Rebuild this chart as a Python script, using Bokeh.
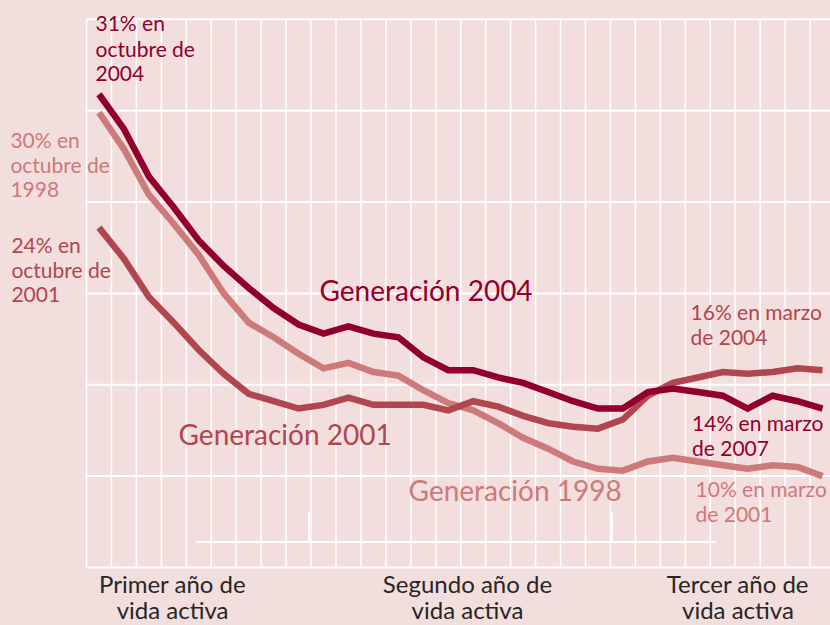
from bokeh.plotting import figure
from bokeh.models import Range1d, Label
from bokeh.embed import file_html
from bokeh.resources import INLINE

# ---- data (unemployment rate, %, by month since leaving education) ----
months = ["oct", "nov", "dic", "ene", "feb", "mar", "abr", "may", "jun", "jul",
          "ago", "sep", "oct", "nov", "dic", "ene", "feb", "mar", "abr", "may",
          "jun", "jul", "ago", "sep", "oct", "nov", "dic", "ene", "feb", "mar"]
gen2004 = [30.9, 29.0, 26.4, 24.7, 22.9, 21.5, 20.3, 19.2, 18.3, 17.8,
           18.2, 17.8, 17.6, 16.5, 15.8, 15.8, 15.4, 15.1, 14.6, 14.1,
           13.7, 13.7, 14.6, 14.8, 14.6, 14.4, 13.7, 14.4, 14.1, 13.7]
gen2001 = [23.6, 21.9, 19.8, 18.4, 16.9, 15.6, 14.5, 14.1, 13.7, 13.9,
           14.3, 13.9, 13.9, 13.9, 13.6, 14.1, 13.8, 13.3, 12.9, 12.7,
           12.6, 13.1, 14.4, 15.1, 15.4, 15.7, 15.6, 15.7, 15.9, 15.8]
gen1998 = [29.9, 27.9, 25.4, 23.8, 22.1, 20.0, 18.4, 17.6, 16.7, 15.9,
           16.2, 15.7, 15.5, 14.7, 14.0, 13.6, 12.9, 12.1, 11.5, 10.8,
           10.4, 10.3, 10.8, 11.0, 10.8, 10.6, 10.4, 10.6, 10.5, 10.0]
y_ticks = [5, 10, 15, 20, 25, 30, 35]
period_labels = [("Primer año de", "vida activa"),
                 ("Segundo año de", "vida activa"),
                 ("Tercer año de", "vida activa")]

BG = "#f2dedd"
C04 = "#91002d"
C01 = "#b0464f"
C98 = "#cc7a7a"
INK = "#262626"
FONT = "Lato"

n = len(months)
x = [i + 0.5 for i in range(n)]

p = figure(width=830, height=625, output_backend="svg", toolbar_location=None,
           title_location=None,
           x_range=Range1d(-3.447, 29.82), y_range=Range1d(1.825, 36.03),
           x_axis_location=None, y_axis_location=None,
           min_border=0, min_border_left=0, min_border_right=0,
           min_border_top=0, min_border_bottom=0)
p.background_fill_color = BG
p.border_fill_color = BG
p.outline_line_color = None
p.xgrid.visible = False
p.ygrid.visible = False

# white grid: month boundaries and 5-point rate steps
bounds = list(range(n))
p.segment(x0=bounds, x1=bounds, y0=[y_ticks[0]] * n, y1=[y_ticks[-1]] * n,
          line_color="white", line_width=1.5)
p.segment(x0=[0] * len(y_ticks), x1=[p.x_range.end] * len(y_ticks),
          y0=y_ticks, y1=y_ticks, line_color="white", line_width=2)

# bracket below the curves
p.segment(x0=[4.41, 8.92, 21.06], y0=[6.39, 6.39, 6.39],
          x1=[25.21, 8.92, 21.06], y1=[6.39, 8.01, 8.01],
          line_color="white", line_width=2)

for ys, col in ((gen1998, C98), (gen2001, C01), (gen2004, C04)):
    p.line(x, ys, line_color=col, line_width=6.5,
           line_join="miter", line_cap="butt")


def lab(u, v, text, color, size, align="left"):
    p.add_layout(Label(x=u, y=v, text=text, text_color=color, text_font=FONT,
                       text_font_size=size, text_align=align,
                       text_baseline="middle"))


STEP = 1.37
# start / end annotations
for i, t in enumerate(["31% en", "octubre de", "2004"]):
    lab(0.36, 34.83 - i * 1.40, t, C04, "21px")
for i, t in enumerate(["30% en", "octubre de", "1998"]):
    lab(-3.05, 28.42 - i * STEP, t, C98, "21px")
for i, t in enumerate(["24% en", "octubre de", "2001"]):
    lab(-3.01, 22.67 - i * STEP, t, C01, "21px")
for i, t in enumerate(["16% en marzo", "de 2004"]):
    lab(24.21, 19.0 - i * STEP, t, C01, "21px")
for i, t in enumerate(["14% en marzo", "de 2007"]):
    lab(24.27, 12.91 - i * STEP, t, C04, "21px")
for i, t in enumerate(["10% en marzo", "de 2001"]):
    lab(24.41, 9.35 - i * STEP, t, C98, "21px")

# series names
lab(9.34, 20.16, "Generación 2004", C04, "28px")
lab(3.69, 12.32, "Generación 2001", C01, "28px")
lab(12.91, 9.24, "Generación 1998", C98, "28px")

# period labels under the chart
for u, (l1, l2) in zip([3.45, 15.27, 26.11], period_labels):
    lab(u, 4.12, l1, INK, "24px", "center")
    lab(u, 2.70, l2, INK, "24px", "center")

html = file_html(p, INLINE)
html = html.replace("</head>", "<style>html,body{background:%s;}</style></head>" % BG, 1)
open("out.html", "w").write(html)
